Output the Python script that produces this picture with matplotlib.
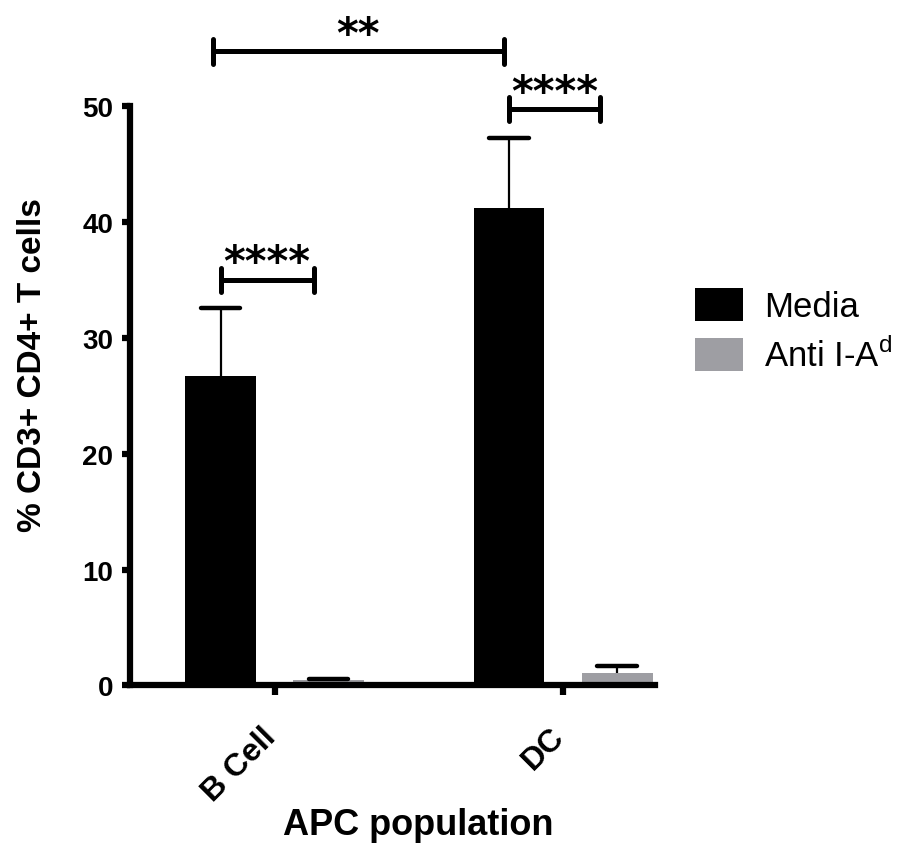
import numpy as np
import matplotlib
matplotlib.use("Agg")
import matplotlib.pyplot as plt
import matplotlib.transforms as mtransforms
from matplotlib.patches import Patch

plt.rcParams['font.family'] = ['Liberation Sans', 'DejaVu Sans']

# data
groups = ["B Cell", "DC"]
series = ["Media", "Anti I-A$^{\\mathregular{d}}$"]
media_mean = [26.7, 41.2]
media_err = [5.85, 6.0]
anti_mean = [0.45, 1.05]
anti_err = [0.1, 0.6]
colors = ["#000000", "#9e9ea3"]

# significance brackets: (x1, x2, y, label)
sig = [
    (-0.188, 0.135, 35.0, "****"),
    (0.812, 1.128, 49.7, "****"),
    (-0.215, 0.795, 54.7, "**"),
]

fig = plt.figure(figsize=(8.99, 8.53), dpi=100)
ax = fig.add_axes([0.1446, 0.1952, 0.584, 0.6794])

x = np.arange(len(groups))
off = 0.1875
w = 0.246
cap = 0.068

for vals, errs, col, dx in [(media_mean, media_err, colors[0], -off),
                            (anti_mean, anti_err, colors[1], off)]:
    xs = x + dx
    tops = np.array(vals) + np.array(errs)
    ax.bar(xs, vals, width=w, color=col, zorder=2)
    ax.vlines(xs, vals, tops, color='black', lw=1.6, zorder=3)
    ax.hlines(tops, xs - cap, xs + cap, color='black', lw=3.2, zorder=3,
              capstyle='round')

ax.set_xlim(-0.502, 1.319)
ax.set_ylim(0, 50)
ax.set_yticks([0, 10, 20, 30, 40, 50])
ax.set_xticks(x)
ax.set_xticklabels([])
for lab in ax.get_yticklabels():
    lab.set_fontsize(20)
    lab.set_fontweight('bold')

# rotated category labels, offset from the tick position
lab_tr = ax.get_xaxis_transform() + mtransforms.ScaledTranslation(
    -14 / 100, -36 / 100, fig.dpi_scale_trans)
for xi, name in zip(x, groups):
    ax.text(xi, 0, name, transform=lab_tr, rotation=45, ha='right', va='top',
            rotation_mode='anchor', fontsize=23, fontweight='bold')

for s in ['top', 'right']:
    ax.spines[s].set_visible(False)
for s in ['left', 'bottom']:
    ax.spines[s].set_linewidth(4.5)
ax.tick_params(axis='y', length=6, width=4.5, pad=6)
ax.tick_params(axis='x', length=7, width=4.5)

ax.set_ylabel("% CD3+ CD4+ T cells", fontsize=24, fontweight='bold')
ax.yaxis.set_label_coords(-0.157, 0.555)
ax.set_xlabel("APC population", fontsize=26, fontweight='bold')
ax.xaxis.set_label_coords(0.549, -0.21)

tick_h = 1.04
for x1, x2, y, lab in sig:
    ax.plot([x1, x2], [y, y], color='black', lw=3.6, solid_capstyle='round',
            clip_on=False, zorder=4)
    for xx in (x1, x2):
        ax.plot([xx, xx], [y - tick_h, y + tick_h], color='black', lw=3.6,
                solid_capstyle='round', clip_on=False, zorder=4)
    ax.text((x1 + x2) / 2, y + 0.4, lab, ha='center', va='baseline',
            fontsize=30, fontweight='bold', family='DejaVu Sans',
            clip_on=False)

handles = [Patch(facecolor=c, edgecolor='none') for c in colors]
fig.legend(handles, series, loc='upper left', bbox_to_anchor=(0.758, 0.678),
           frameon=False, fontsize=25, handlelength=1.38, handleheight=1.1,
           handletextpad=0.6, labelspacing=0.4, borderaxespad=0)

fig.savefig("out.png", dpi=100)
